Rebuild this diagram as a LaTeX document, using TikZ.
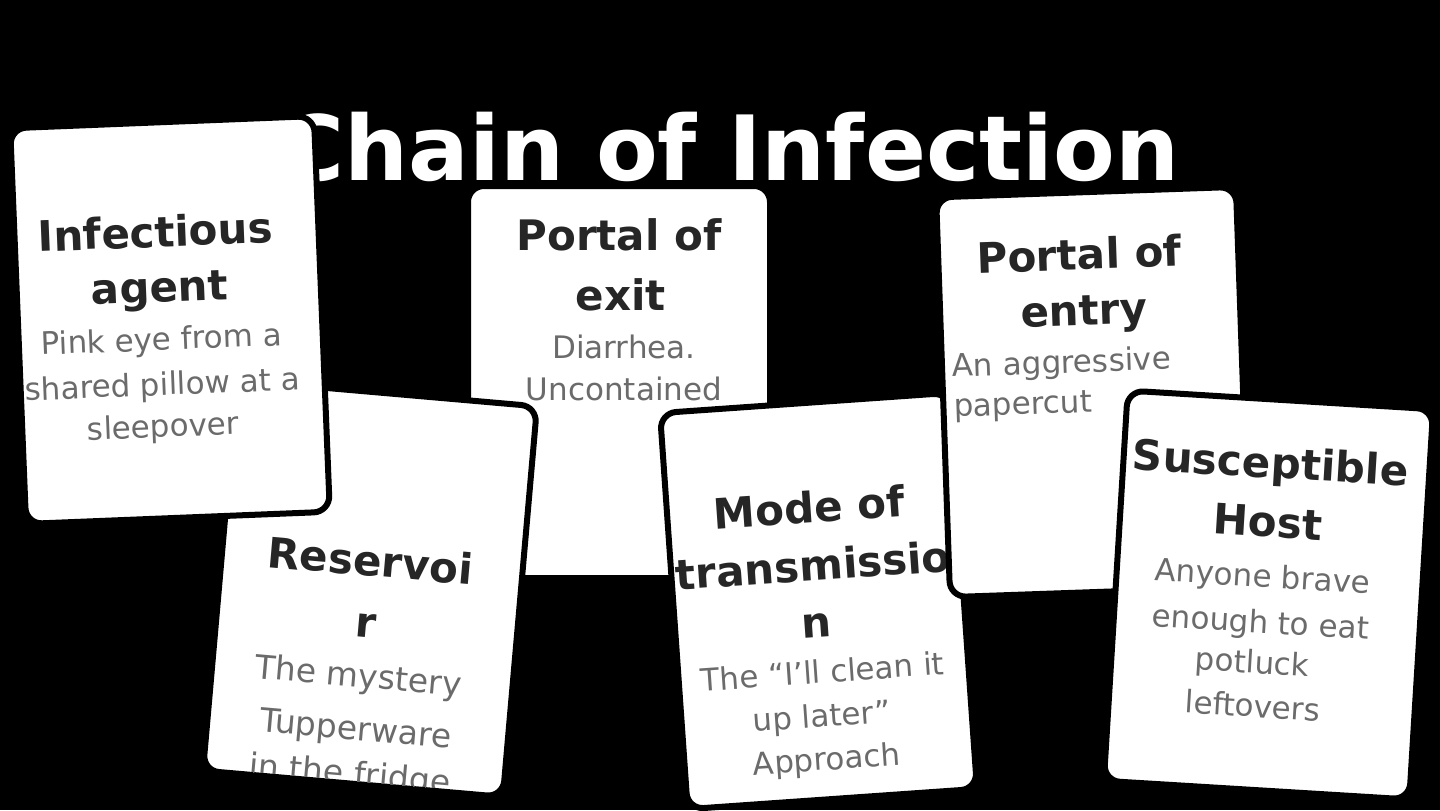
\documentclass[tikz,border=0pt]{standalone}
\usepackage{fontspec}
\setmainfont{DejaVu Sans}
\definecolor{headgray}{HTML}{262626}
\definecolor{bodygray}{HTML}{6B6B6B}

\begin{document}
\begin{tikzpicture}[x=0.5pt,y=-0.5pt,
  card/.style={draw=black,line width=3pt,fill=white,rounded corners=8pt,
    minimum width=150pt,minimum height=197.5pt,inner sep=0pt},
  head/.style={anchor=base,inner sep=0pt,text=headgray,font=\fontsize{21}{25}\selectfont\bfseries},
  body/.style={anchor=base,inner sep=0pt,text=bodygray,font=\fontsize{15.5}{19}\selectfont}]
  \fill[black] (0,0) rectangle (1440,810);
  \useasboundingbox (0,0) rectangle (1440,810);

  % title, partly hidden behind the cards
  \node[anchor=base,inner sep=0pt,text=white,font=\fontsize{45}{54}\selectfont\bfseries]
    (title) at (729,180) {Chain of Infection};

  % Portal of exit (lowest card)
  \begin{scope}[shift={(619,382)},transform shape]
    \node[card,minimum width=151pt,minimum height=196pt] (exit) at (0,0) {};
    \node[head] (exit-h1) at (0,-132) {Portal of};
    \node[head] (exit-h2) at (2,-72) {exit};
    \node[body] (exit-b1) at (5,-24) {Diarrhea.};
    \node[body] (exit-b2) at (5,18) {Uncontained};
  \end{scope}

  % Reservoir, text runs past the bottom edge
  \begin{scope}[shift={(370,588.5)},rotate=-5,transform shape]
    \node[card,minimum width=150.5pt,minimum height=196pt] (reservoir) at (0,0) {};
    \begin{scope}
      \clip[rounded corners=6.5pt] (-147.5,-193) rectangle (147.5,193);
      \node[head] (reservoir-h1) at (-2,-12.4) {Reservoi};
      \node[head] (reservoir-h2) at (-1,48.7) {r};
      \node[body,font=\fontsize{16.5}{20}\selectfont] (reservoir-b1) at (-4,99.3) {The mystery};
      \node[body,font=\fontsize{16.5}{20}\selectfont] (reservoir-b2) at (-2,152.2) {Tupperware};
      \node[body,font=\fontsize{16.5}{20}\selectfont] (reservoir-b3) at (-4,197.7) {in the fridge};
    \end{scope}
  \end{scope}

  % Infectious agent
  \begin{scope}[shift={(170,320)},rotate=2.3,transform shape]
    \node[card,minimum width=152pt,minimum height=198pt] (agent) at (0,0) {};
    \node[head] (agent-h1) at (-11,-73.5) {Infectious};
    \node[head] (agent-h2) at (-9,-18.2) {agent};
    \node[body] (agent-b1) at (-9,29.8) {Pink eye from a};
    \node[body] (agent-b2) at (-10,74.8) {shared pillow at a};
    \node[body] (agent-b3) at (-11,116.8) {sleepover};
  \end{scope}

  % Mode of transmission
  \begin{scope}[shift={(818.5,601)},rotate=4,transform shape]
    \node[card,minimum width=145pt,minimum height=198.5pt] (mode) at (0,0) {};
    \node[head] (mode-h1) at (-3,-78.4) {Mode of};
    \node[head] (mode-h2) at (-3,-20.5) {transmissio};
    \node[head] (mode-h3) at (-4,35.8) {n};
    \node[body] (mode-b1) at (-1,82.1) {The “I’ll clean it};
    \node[body] (mode-b2) at (-5,125.8) {up later”};
    \node[body] (mode-b3) at (-3,169.2) {Approach};
  \end{scope}

  % Portal of entry, body set flush left
  \begin{scope}[shift={(1093,392)},rotate=2,transform shape]
    \node[card,minimum height=200pt] (entry) at (0,0) {};
    \node[head] (entry-h1) at (-9,-122.5) {Portal of};
    \node[head] (entry-h2) at (-6,-67.3) {entry};
    \node[body,anchor=base west] (entry-b1) at (-140,-20) {An aggressive};
    \node[body,anchor=base west] (entry-b2) at (-140,20) {papercut};
  \end{scope}

  % Susceptible Host (top card)
  \begin{scope}[shift={(1268.5,595)},rotate=-3.5,transform shape]
    \node[card,minimum width=153pt,minimum height=195.5pt] (host) at (0,0) {};
    \node[head] (host-h1) at (-6,-117) {Susceptible};
    \node[head] (host-h2) at (-5,-57.8) {Host};
    \node[body] (host-b1) at (-7,-7.6) {Anyone brave};
    \node[body] (host-b2) at (-6,38.4) {enough to eat};
    \node[body] (host-b3) at (-12,79) {potluck};
    \node[body] (host-b4) at (-9,122.8) {leftovers};
  \end{scope}
\end{tikzpicture}
\end{document}
